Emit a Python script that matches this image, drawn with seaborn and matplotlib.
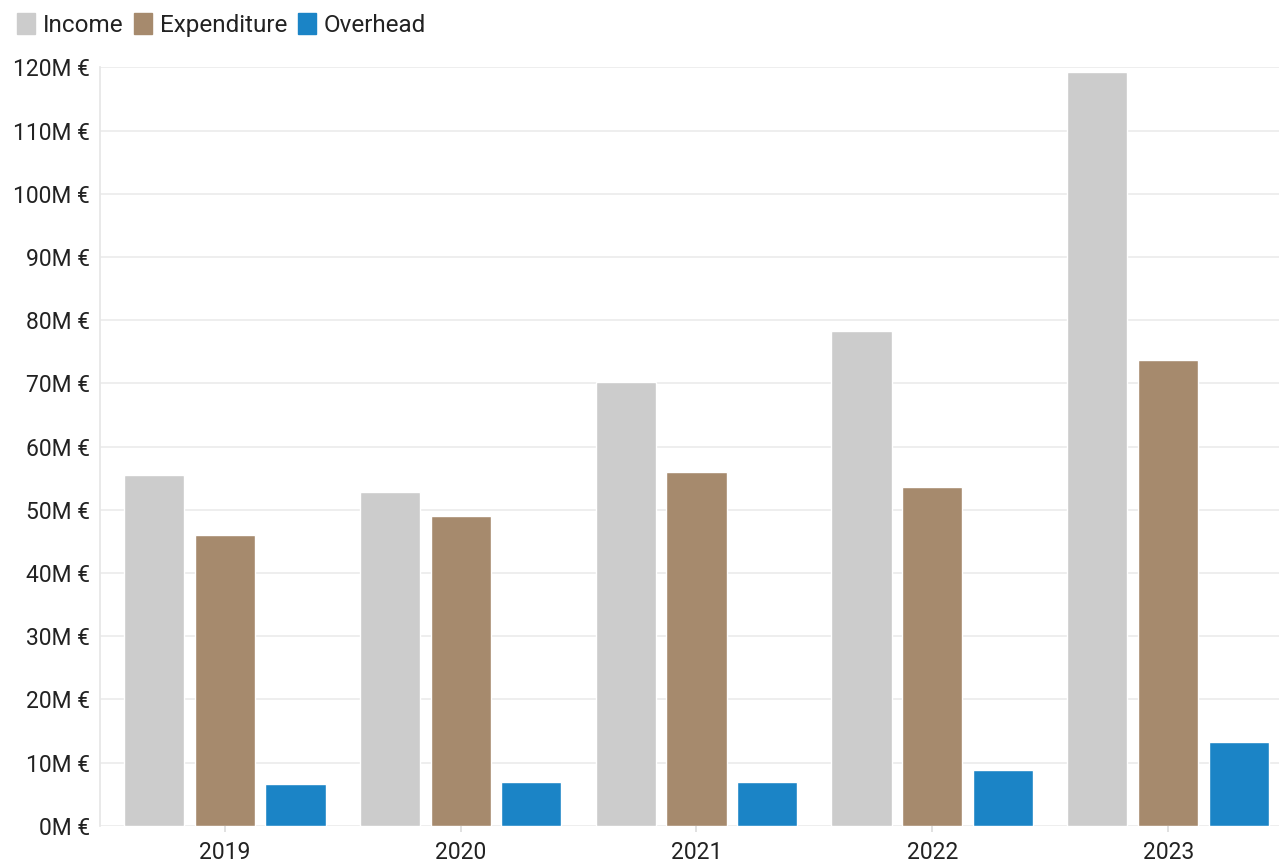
import numpy as np
import pandas as pd
import seaborn as sns
import matplotlib.pyplot as plt
from matplotlib.ticker import FuncFormatter

years = ['2019', '2020', '2021', '2022', '2023']
income = [55.5, 52.8, 70.2, 78.3, 119.3]
expenditure = [46.0, 49.0, 56.0, 53.6, 73.7]
overhead = [6.6, 7.0, 7.0, 8.8, 13.2]
series = ['Income', 'Expenditure', 'Overhead']
colors = ['#cccccc', '#a68a6d', '#1b84c6']

df = pd.DataFrame({'year': years * 3,
                   'kind': [s for s in series for _ in years],
                   'value': income + expenditure + overhead})

sns.set_theme(style='white')
plt.rcParams['font.family'] = ['Roboto', 'DejaVu Sans']
plt.rcParams['text.color'] = '#222222'

fig = plt.figure(figsize=(12.79, 8.63), dpi=100)
ax = fig.add_axes([0.078, 0.043, 0.922, 0.879])

sns.barplot(data=df, x='year', y='value', hue='kind', palette=colors,
            width=0.9, gap=0.15, saturation=1, ax=ax, legend=False)

ax.set_ylim(0, 120)
ax.set_xlim(-0.53, 4.47)
ax.set_yticks(np.arange(0, 121, 10))
ax.yaxis.set_major_formatter(FuncFormatter(lambda v, p: f'{v:.0f}M €'))
ax.grid(axis='y', color='#ebebeb', linewidth=1.2)
ax.set_axisbelow(True)
for side in ['top', 'right', 'bottom']:
    ax.spines[side].set_visible(False)
ax.spines['left'].set_color('#e6e6e6')
ax.set_xlabel('')
ax.set_ylabel('')
ax.tick_params(axis='y', length=0, labelsize=16.5, labelcolor='#222222', pad=7)
ax.tick_params(axis='x', length=4, color='#dddddd', labelsize=16.5, labelcolor='#222222', pad=7)
ax.xaxis.set_ticks_position('bottom')

handles = [plt.Rectangle((0, 0), 1, 1, color=c) for c in colors]
fig.legend(handles, series, loc='upper left', bbox_to_anchor=(0.0, 1.005),
           ncol=3, frameon=False, fontsize=17.5, handlelength=0.75, handleheight=1.0,
           handletextpad=0.3, columnspacing=0.45, borderaxespad=0.3)

fig.savefig('out.png', dpi=100)
